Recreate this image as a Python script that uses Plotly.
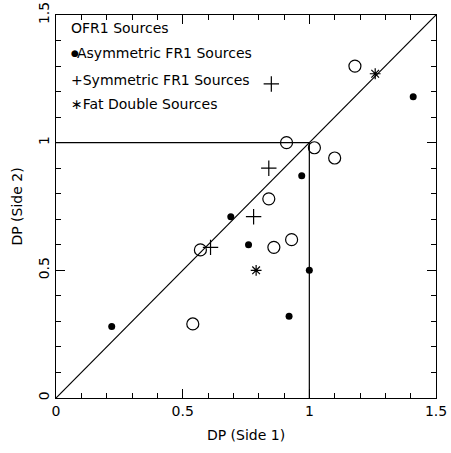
import plotly.graph_objects as go

asym_x = [0.22, 0.69, 0.76, 0.92, 0.97, 1.00, 1.41]
asym_y = [0.28, 0.71, 0.60, 0.32, 0.87, 0.50, 1.18]
ofr_x = [0.54, 0.57, 0.84, 0.86, 0.91, 0.93, 1.02, 1.10, 1.18]
ofr_y = [0.29, 0.58, 0.78, 0.59, 1.00, 0.62, 0.98, 0.94, 1.30]
sym_x = [0.61, 0.78, 0.84, 0.85]
sym_y = [0.59, 0.71, 0.90, 1.23]
fat_x = [0.79, 1.26]
fat_y = [0.50, 1.27]
diag = [0, 1.5]
box_x = [0, 1, 1]
box_y = [1, 1, 0]
legend_lines = ["OFR1 Sources", "Asymmetric FR1 Sources", "+Symmetric FR1 Sources", "\u2217Fat Double Sources"]
legend_x = [0.05, 0.075, 0.05, 0.05]
legend_y = [1.45, 1.352, 1.247, 1.15]

FONT = "DejaVu Sans"
fig = go.Figure()
fig.add_trace(go.Scatter(x=diag, y=diag, mode="lines", line=dict(color="black", width=1.2), hoverinfo="skip"))
fig.add_trace(go.Scatter(x=box_x, y=box_y, mode="lines", line=dict(color="black", width=1.2), hoverinfo="skip"))
fig.add_trace(go.Scatter(x=ofr_x, y=ofr_y, mode="markers",
                         marker=dict(symbol="circle-open", size=12, color="black", line=dict(width=1.2))))
fig.add_trace(go.Scatter(x=asym_x, y=asym_y, mode="markers",
                         marker=dict(symbol="circle", size=7, color="black")))
fig.add_trace(go.Scatter(x=sym_x, y=sym_y, mode="markers",
                         marker=dict(symbol="cross-thin-open", size=11, color="black", line=dict(width=1.2, color="black"))))
fig.add_trace(go.Scatter(x=fat_x, y=fat_y, mode="markers",
                         marker=dict(symbol="asterisk-open", size=9, color="black", line=dict(width=1.2, color="black"))))

for t, xx, yy in zip(legend_lines, legend_x, legend_y):
    fig.add_annotation(x=xx, y=yy, text=t, showarrow=False, xanchor="left", yanchor="middle",
                       font=dict(family=FONT, size=14, color="black"))
fig.add_annotation(x=0.05, y=legend_y[1], text="\u25cf", showarrow=False, xanchor="left", yanchor="middle",
                   font=dict(family=FONT, size=9, color="black"))

axis_common = dict(range=[0, 1.5], showgrid=False, zeroline=False, showline=True, linecolor="black",
                   linewidth=1.2, mirror="ticks", ticks="inside", ticklen=9, tickwidth=1, tickcolor="black",
                   tickmode="linear", tick0=0, dtick=0.5, automargin=False,
                   minor=dict(ticks="inside", ticklen=5, tickwidth=1, tickcolor="black", dtick=0.1, showgrid=False),
                   tickfont=dict(family=FONT, size=14, color="black"))
fig.update_xaxes(**axis_common, title=dict(text="DP (Side 1)", font=dict(family=FONT, size=14, color="black"), standoff=12))
fig.update_yaxes(**axis_common, tickangle=-90, title=dict(text="DP (Side 2)", font=dict(family=FONT, size=14, color="black"), standoff=10))

fig.update_layout(width=451, height=453, margin=dict(l=56, r=15, t=15, b=55),
                  plot_bgcolor="white", paper_bgcolor="white", showlegend=False)
fig.write_html("out.html", config=dict(displayModeBar=False),
               post_script="document.body.style.margin='0';document.body.style.overflow='hidden';")
